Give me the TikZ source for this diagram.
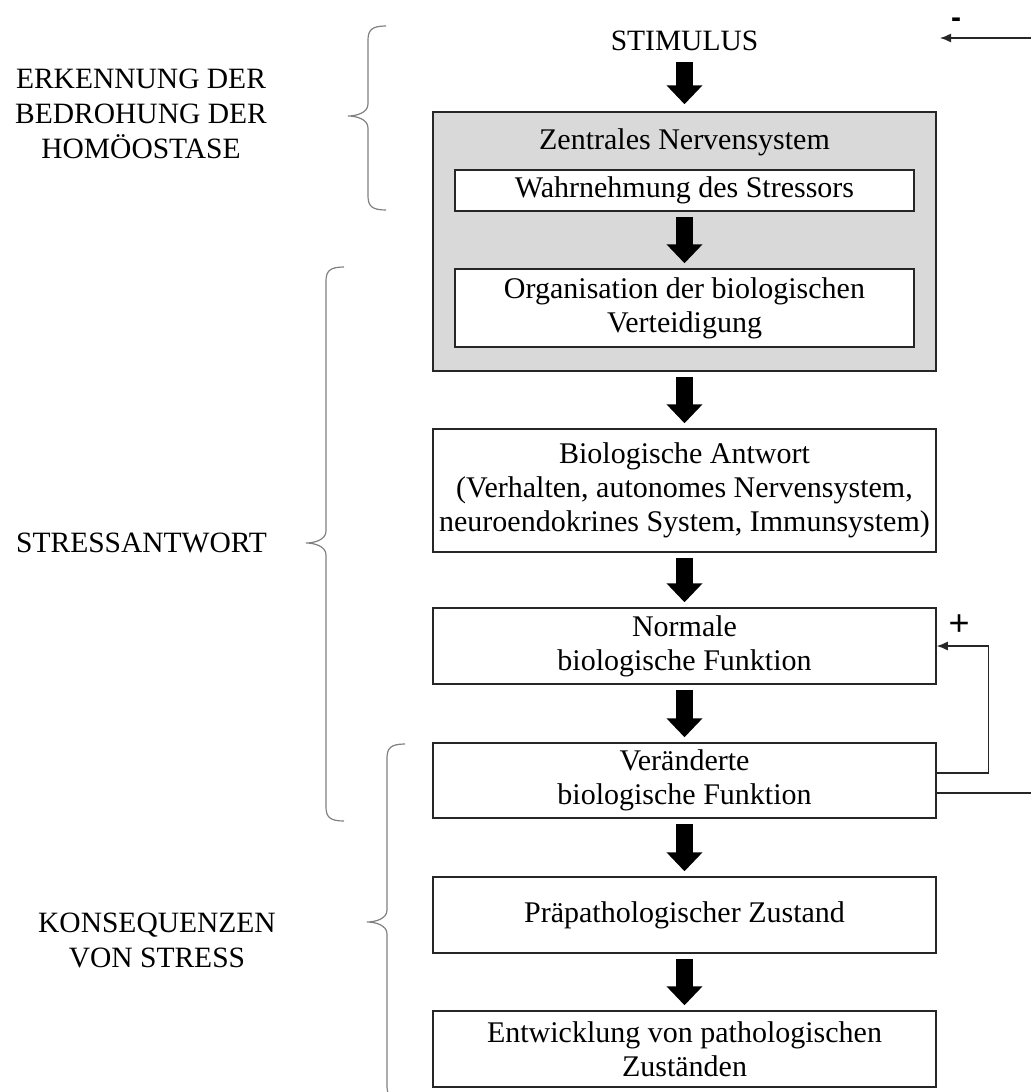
\documentclass[tikz,border=0pt]{standalone}
\usepackage{fontspec}
\setmainfont{Liberation Serif}
\newfontfamily\signfont{Liberation Sans}
\usetikzlibrary{arrows.meta,positioning,calc}

\tikzset{
  box/.style={draw=black!85, line width=1.5pt, fill=white, align=center, inner sep=0pt,
    minimum width=503pt, font=\fontsize{30}{34}\selectfont},
  innerbox/.style={box, minimum width=459pt},
  sidetext/.style={align=center, inner sep=0pt, font=\fontsize{29.5}{35}\selectfont},
  bigarrow/.style={line width=17pt, -{Triangle[width=35pt,length=19pt]}, shorten <=5pt, shorten >=5pt},
  thinarrow/.style={line width=1.4pt, black!85, -{Latex[length=11pt,width=9pt]}},
  thinline/.style={line width=1.4pt, black!85},
  bracepath/.style={black!50, line width=1.2pt},
}

% x, top, tip, bottom
\newcommand{\sidebrace}[4]{%
  \draw[bracepath] (#1+18,#2) .. controls (#1+4,#2) and (#1,#2+4) .. (#1,#2+14)
    -- (#1,#3-12) .. controls (#1,#3-3) and (#1-12,#3) .. (#1-20,#3)
    .. controls (#1-12,#3) and (#1,#3+3) .. (#1,#3+12)
    -- (#1,#4-14) .. controls (#1,#4-4) and (#1+4,#4) .. (#1+18,#4);
}

\begin{document}
\begin{tikzpicture}[x=1pt,y=-1pt]
\useasboundingbox (0,0) rectangle (1031,1092);
% ==========================================
\node[sidetext] (stim) at (684.5,41) {STIMULUS};
\node[box, fill=black!15, minimum height=259pt] (zns) at (684.5,241.5) {};
\node[box, draw=none, fill=none] (znstext) at (684.5,142) {Zentrales Nervensystem};
\node[innerbox, minimum height=41pt] (wahr) at (684.5,190.5) {Wahrnehmung des Stressors};
\node[innerbox, minimum height=78pt] (orga) at (684.5,308) {Organisation der biologischen\\Verteidigung};
\node[box, minimum height=123pt] (antw) at (684.5,490.5) {Biologische Antwort\\(Verhalten, autonomes Nervensystem,\\neuroendokrines System, Immunsystem)};
\node[box, minimum height=76pt] (norm) at (684.5,646) {Normale\\biologische Funktion};
\node[box, minimum height=75pt] (ver) at (684.5,780.5) {Veränderte\\biologische Funktion};
\node[box, minimum height=76pt] (prae) at (684.5,915) {Präpathologischer Zustand};
\node[box, minimum height=76pt] (patho) at (684.5,1049) {Entwicklung von pathologischen\\Zuständen};
%
\draw[bigarrow, shorten <=11pt, shorten >=7pt] (stim.south) -- (zns.north);
\draw[bigarrow] (wahr.south) -- (orga.north);
\draw[bigarrow] (zns.south) -- (antw.north);
\draw[bigarrow] (antw.south) -- (norm.north);
\draw[bigarrow] (norm.south) -- (ver.north);
\draw[bigarrow] (ver.south) -- (prae.north);
\draw[bigarrow] (prae.south) -- (patho.north);
% =============================================
\draw[thinarrow] ([yshift=7.5pt]ver.east) -- ++(52,0) |- (norm.east);%Feedback.
\node[font=\signfont\fontsize{36}{38}\selectfont] (plus) at (959,625) {+};
\coordinate (outR) at (1031,793);
\draw[thinline] ([yshift=-12.5pt]ver.east) -- (outR);
\coordinate (inR) at (1031,38);
\coordinate (inL) at (940,38);
\draw[thinarrow] (inR) -- (inL);
\node[font=\signfont\bfseries\fontsize{30}{32}\selectfont] (minus) at (956,23) {-};
% =============================================
\node[sidetext] (erk) at (141,114) {ERKENNUNG DER\\BEDROHUNG DER\\HOMÖOSTASE};
\node[sidetext] (sant) at (141.5,543) {STRESSANTWORT};
\node[sidetext] (kons) at (157,940) {KONSEQUENZEN\\VON STRESS};
\sidebrace{368}{26}{116}{210}
\sidebrace{326}{267}{543}{821}
\sidebrace{387}{744}{922}{1100}
\end{tikzpicture}
\end{document}
